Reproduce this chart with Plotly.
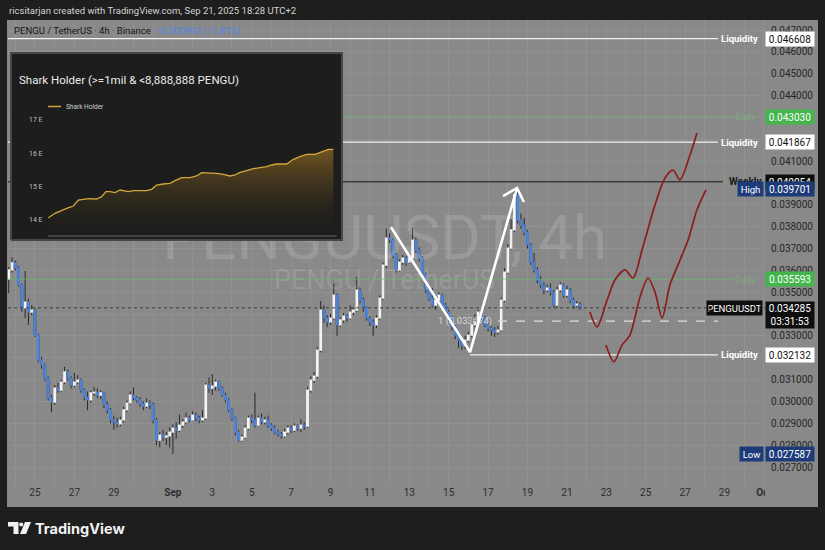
import plotly.graph_objects as go
import pandas as pd

# ---------------- data ----------------
candle_start = "2025-08-23 16:00"
first_open = 0.03560
close = [0.03602,0.03634,0.03611,0.03533,0.03428,0.03455,0.03409,0.03418,0.03304,0.03190,
         0.03167,0.03107,0.03016,0.02997,0.03061,0.03052,0.03089,0.03135,0.03107,0.03075,
         0.03089,0.03098,0.03052,0.03020,0.03007,0.03039,0.03043,0.03029,0.03039,0.02984,
         0.02961,0.02915,0.02906,0.02897,0.02915,0.02961,0.02993,0.03029,0.03016,0.03007,
         0.02988,0.02979,0.02993,0.02984,0.02915,0.02823,0.02846,0.02837,0.02842,0.02860,
         0.02878,0.02869,0.02892,0.02906,0.02924,0.02915,0.02938,0.02924,0.02915,0.02924,
         0.03075,0.03061,0.03070,0.03089,0.03061,0.03029,0.03007,0.02961,0.02924,0.02860,
         0.02823,0.02837,0.02878,0.02924,0.02915,0.02892,0.02924,0.02906,0.02915,0.02892,
         0.02878,0.02860,0.02851,0.02842,0.02860,0.02878,0.02869,0.02887,0.02878,0.02892,
         0.02887,0.03052,0.03098,0.03116,0.03235,0.03418,0.03382,0.03364,0.03382,0.03487,
         0.03350,0.03373,0.03391,0.03382,0.03409,0.03418,0.03510,0.03464,0.03428,0.03382,
         0.03364,0.03350,0.03382,0.03473,0.03624,0.03748,0.03739,0.03670,0.03602,0.03638,
         0.03656,0.03638,0.03656,0.03739,0.03693,0.03656,0.03579,0.03510,0.03473,0.03441,
         0.03464,0.03487,0.03441,0.03409,0.03382,0.03341,0.03304,0.03281,0.03258,0.03281,
         0.03304,0.03350,0.03364,0.03409,0.03382,0.03350,0.03336,0.03327,0.03318,0.03327,
         0.03464,0.03592,0.03702,0.03785,0.03945,0.03830,0.03807,0.03775,0.03716,0.03638,
         0.03602,0.03556,0.03533,0.03510,0.03519,0.03501,0.03441,0.03510,0.03533,0.03487,
         0.03510,0.03464,0.03441,0.03446,0.034285]
high = [0.03615,0.03660,0.03645,0.03620,0.03540,0.03597,0.03470,0.03440,0.03425,0.03310,
        0.03205,0.03175,0.03115,0.03030,0.03075,0.03085,0.03100,0.03158,0.03145,0.03115,
        0.03130,0.03120,0.03105,0.03060,0.03045,0.03050,0.03065,0.03060,0.03050,0.03045,
        0.03000,0.02970,0.02935,0.02925,0.02930,0.02975,0.03005,0.03045,0.03065,0.03025,
        0.03020,0.03000,0.03015,0.03005,0.02995,0.02925,0.02860,0.02870,0.02860,0.02880,
        0.02895,0.02905,0.02940,0.02920,0.02950,0.02935,0.02955,0.02950,0.02935,0.02960,
        0.03085,0.03110,0.03125,0.03100,0.03095,0.03070,0.03040,0.03015,0.02970,0.02930,
        0.02870,0.02850,0.02890,0.02935,0.02940,0.03040,0.02935,0.02945,0.02930,0.02935,
        0.02900,0.02890,0.02870,0.02860,0.02875,0.02890,0.02890,0.02900,0.02895,0.02920,
        0.02905,0.03065,0.03115,0.03135,0.03250,0.03460,0.03440,0.03395,0.03400,0.03540,
        0.03495,0.03385,0.03405,0.03400,0.03440,0.03430,0.03570,0.03520,0.03475,0.03435,
        0.03390,0.03375,0.03395,0.03485,0.03635,0.03790,0.03770,0.03745,0.03680,0.03650,
        0.03670,0.03665,0.03675,0.03795,0.03750,0.03705,0.03665,0.03590,0.03525,0.03520,
        0.03480,0.03500,0.03495,0.03450,0.03420,0.03390,0.03350,0.03315,0.03290,0.03300,
        0.03320,0.03380,0.03400,0.03420,0.03415,0.03390,0.03360,0.03345,0.03340,0.03345,
        0.03475,0.03610,0.03720,0.03835,0.039701,0.03955,0.03860,0.03840,0.03785,0.03725,
        0.03680,0.03615,0.03575,0.03545,0.03535,0.03540,0.03510,0.03525,0.03545,0.03540,
        0.03530,0.03520,0.03475,0.03460,0.03455]
low = [0.03496,0.03590,0.03600,0.03525,0.03410,0.03382,0.03350,0.03395,0.03295,0.03180,
       0.03150,0.03095,0.03005,0.02950,0.02985,0.03040,0.03045,0.03080,0.03095,0.03060,
       0.03065,0.03080,0.03040,0.03005,0.02960,0.02995,0.03025,0.03015,0.03010,0.02970,
       0.02945,0.02900,0.02870,0.02880,0.02885,0.02905,0.02950,0.02985,0.03005,0.02995,
       0.02975,0.02960,0.02970,0.02965,0.02900,0.02800,0.02790,0.02820,0.02800,0.02790,
       0.027587,0.02830,0.02860,0.02880,0.02895,0.02905,0.02910,0.02910,0.02900,0.02905,
       0.02915,0.03040,0.03030,0.03050,0.03050,0.03020,0.02995,0.02950,0.02910,0.02845,
       0.02815,0.02815,0.02830,0.02870,0.02900,0.02880,0.02885,0.02895,0.02895,0.02880,
       0.02865,0.02850,0.02840,0.02830,0.02835,0.02850,0.02855,0.02860,0.02865,0.02860,
       0.02870,0.02880,0.03040,0.03085,0.03105,0.03225,0.03360,0.03340,0.03350,0.03375,
       0.03300,0.03340,0.03360,0.03365,0.03375,0.03395,0.03410,0.03450,0.03410,0.03370,
       0.03345,0.03300,0.03335,0.03375,0.03465,0.03610,0.03725,0.03655,0.03590,0.03595,
       0.03625,0.03620,0.03630,0.03650,0.03680,0.03640,0.03565,0.03495,0.03460,0.03430,
       0.03420,0.03455,0.03430,0.03395,0.03365,0.03325,0.03285,0.03245,0.03235,0.03240,
       0.03270,0.03295,0.03340,0.03355,0.03370,0.03340,0.03320,0.03300,0.03295,0.03305,
       0.03320,0.03455,0.03585,0.03695,0.03775,0.03815,0.03790,0.03760,0.03700,0.03625,
       0.03590,0.03540,0.03520,0.03490,0.03500,0.03485,0.03430,0.03430,0.03500,0.03475,
       0.03475,0.03450,0.03425,0.03430,0.03420]

# horizontal levels
liquidity_prices = [0.046608, 0.041867, 0.032132]
daily_prices = [0.043030, 0.035593]
weekly_price = 0.040054
high_price = 0.039701
low_price = 0.027587
last_price = 0.034285
countdown = "03:31:53"
fib_price = 0.033674
fib_label = "1 (0.033674)"

# price-scale labels that stay visible (others sit under the price boxes)
price_ticks = [0.027, 0.028, 0.029, 0.030, 0.031, 0.033, 0.035, 0.036, 0.037, 0.038, 0.039,
               0.041, 0.044, 0.045, 0.046, 0.047]

# drawings
zig_x = ["2025-09-12 01:40", "2025-09-16 02:00", "2025-09-18 11:15"]
zig_y = [0.03798, 0.03226, 0.03977]
head_x = ["2025-09-17 18:15", "2025-09-18 11:15", "2025-09-18 19:40"]
head_y = [0.03940, 0.03977, 0.03913]
proj1_x = ["2025-09-22 04:00", "2025-09-22 12:45", "2025-09-23 01:00", "2025-09-23 10:30",
           "2025-09-23 22:50", "2025-09-24 08:40", "2025-09-24 19:30", "2025-09-25 11:20",
           "2025-09-25 23:30", "2025-09-26 09:20", "2025-09-26 17:50", "2025-09-27 06:00",
           "2025-09-27 14:25"]
proj1_y = [0.03409, 0.03341, 0.03464, 0.03556, 0.03602, 0.03565, 0.03693, 0.03899,
           0.04023, 0.04059, 0.04014, 0.04128, 0.04229]
proj2_x = ["2025-09-22 23:30", "2025-09-23 09:20", "2025-09-23 19:10", "2025-09-24 04:50",
           "2025-09-24 17:00", "2025-09-25 02:50", "2025-09-25 11:20", "2025-09-25 20:00",
           "2025-09-26 05:30", "2025-09-26 15:20", "2025-09-27 03:40", "2025-09-27 14:25",
           "2025-09-28 01:25"]
proj2_y = [0.03258, 0.03181, 0.03258, 0.03304, 0.03477, 0.03565, 0.03501, 0.03382,
           0.03533, 0.03625, 0.03739, 0.03876, 0.03968]

# x axis ticks
tick_dates = ["2025-08-25", "2025-08-27", "2025-08-29", "2025-09-01", "2025-09-03", "2025-09-05",
              "2025-09-07", "2025-09-09", "2025-09-11", "2025-09-13", "2025-09-15", "2025-09-17",
              "2025-09-19", "2025-09-21", "2025-09-23", "2025-09-25", "2025-09-27", "2025-09-29",
              "2025-10-01"]
tick_text = ["25", "27", "29", "<b>Sep</b>", "3", "5", "7", "9", "11", "13", "15", "17", "19",
             "21", "23", "25", "27", "29", "<b>Oct</b>"]

# inset: Shark Holder
shark_x = [14.5, 16.5, 20.0, 22.0, 23.5, 25.0, 26.5, 29.0, 30.5, 31.8, 33.0, 34.5, 36.0, 38.5,
           40.0, 42.0, 44.0, 45.5, 47.0, 49.0, 51.0, 52.5, 54.5, 57.0, 59.0, 60.5, 62.5, 65.0,
           67.0, 69.0, 70.5, 72.0, 74.0, 76.0, 78.0, 80.0, 81.5, 83.0, 86.0, 88.0, 90.0, 92.0,
           94.5, 96.5, 98.5, 100.0]
shark_y = [14.07, 14.20, 14.35, 14.42, 14.60, 14.62, 14.64, 14.63, 14.70, 14.85, 14.85, 14.82,
           14.90, 14.85, 14.88, 14.88, 14.88, 14.92, 15.05, 15.08, 15.10, 15.18, 15.27, 15.27,
           15.32, 15.42, 15.42, 15.40, 15.37, 15.32, 15.35, 15.43, 15.48, 15.54, 15.57, 15.60,
           15.65, 15.68, 15.68, 15.82, 15.90, 15.97, 15.97, 16.05, 16.12, 16.12]
shark_ticks = [14, 15, 16, 17]
shark_ticktext = ["14 E", "15 E", "16 E", "17 E"]

# ---------------- layout geometry ----------------
W, H = 825, 550
ML, MR, MT, MB = 8, 60, 20, 65
PW, PH = W - ML - MR, H - MT - MB
X0, X1 = "2025-08-23 15:07", "2025-10-01 01:21"
Y0, Y1 = 0.026176, 0.047458
LINE_END = "2025-09-28 16:00"
DAILY_END = "2025-09-29 12:45"
WEEKLY_END = "2025-09-28 22:00"

def px(x):
    return (x - ML) / PW

def py(y):
    return (H - MB - y) / PH

BG = "#898989"
DARK = "#1e1e1e"
BLUE = "#4f84dc"
FONT = "Roboto"

times = pd.date_range(candle_start, periods=len(close), freq="4h")
opens = [first_open] + close[:-1]
body_hi = [max(o, c) for o, c in zip(opens, close)]
body_lo = [min(o, c) for o, c in zip(opens, close)]

fig = go.Figure()

# watermark
fig.add_trace(go.Scatter(x=["2025-09-11 18:00"], y=[0.03725], mode="text", text=["PENGUUSDT, 4h"],
                         textfont=dict(size=62, color="rgba(255,255,255,0.14)", family=FONT),
                         hoverinfo="skip", showlegend=False))
fig.add_trace(go.Scatter(x=["2025-09-11 18:00"], y=[0.03545], mode="text", text=["PENGU / TetherUS"],
                         textfont=dict(size=27, color="rgba(255,255,255,0.14)", family=FONT),
                         hoverinfo="skip", showlegend=False))

# horizontal levels (as traces so the inset hides them)
for i, p in enumerate(liquidity_prices):
    xs = X0 if i < 2 else zig_x[1]
    fig.add_trace(go.Scatter(x=[xs, LINE_END], y=[p, p], mode="lines",
                             line=dict(color="#f2f2f2", width=1.2), hoverinfo="skip", showlegend=False))
for p in daily_prices:
    fig.add_trace(go.Scatter(x=[X0, DAILY_END], y=[p, p], mode="lines",
                             line=dict(color="rgba(95,195,95,0.6)", width=1), hoverinfo="skip", showlegend=False))
fig.add_trace(go.Scatter(x=[X0, WEEKLY_END], y=[weekly_price, weekly_price], mode="lines",
                         line=dict(color="#3a3a3a", width=1.6), hoverinfo="skip", showlegend=False))
fig.add_trace(go.Scatter(x=[X0, X1], y=[last_price, last_price], mode="lines",
                         line=dict(color="#3c3c3c", width=1, dash="dot"), hoverinfo="skip", showlegend=False))
fig.add_trace(go.Scatter(x=["2025-09-17 12:00", LINE_END], y=[fib_price, fib_price], mode="lines",
                         line=dict(color="#dedede", width=1.2, dash="dash"), hoverinfo="skip", showlegend=False))
fig.add_trace(go.Scatter(x=["2025-09-17 05:00"], y=[fib_price], mode="text", text=[fib_label],
                         textposition="middle left",
                         textfont=dict(size=9.5, color="#d6d6d6", family=FONT),
                         hoverinfo="skip", showlegend=False))

# candles: wicks then bodies
fig.add_trace(go.Candlestick(x=times, open=opens, high=high, low=low, close=close,
                             increasing=dict(line=dict(color="#2a2a2a", width=1), fillcolor="#2a2a2a"),
                             decreasing=dict(line=dict(color="#2a2a2a", width=1), fillcolor="#2a2a2a"),
                             whiskerwidth=0, hoverinfo="skip", showlegend=False))
fig.add_trace(go.Candlestick(x=times, open=opens, high=body_hi, low=body_lo, close=close,
                             increasing=dict(line=dict(color="#f4f4f4", width=1.2), fillcolor="#f4f4f4"),
                             decreasing=dict(line=dict(color=BLUE, width=1.2), fillcolor=BLUE),
                             whiskerwidth=0, hoverinfo="skip", showlegend=False))

# drawings
fig.add_trace(go.Scatter(x=proj1_x, y=proj1_y, mode="lines", line=dict(color="#8c1d1d", width=1.7, shape="spline", smoothing=0.8),
                         hoverinfo="skip", showlegend=False))
fig.add_trace(go.Scatter(x=proj2_x, y=proj2_y, mode="lines", line=dict(color="#8c1d1d", width=1.7, shape="spline", smoothing=0.8),
                         hoverinfo="skip", showlegend=False))
fig.add_trace(go.Scatter(x=zig_x, y=zig_y, mode="lines", line=dict(color="#ffffff", width=2.6),
                         hoverinfo="skip", showlegend=False))
fig.add_trace(go.Scatter(x=head_x, y=head_y, mode="lines", line=dict(color="#ffffff", width=2.6),
                         hoverinfo="skip", showlegend=False))

# inset (second subplot drawn on top)
IX0, IX1 = 3.0, 102.9
IY0, IY1 = 13.37, 19.04
fig.add_trace(go.Scatter(x=[IX0 + 0.3, IX1 - 0.3, IX1 - 0.3, IX0 + 0.3, IX0 + 0.3],
                         y=[IY0 + 0.03, IY0 + 0.03, IY1 - 0.03, IY1 - 0.03, IY0 + 0.03],
                         mode="lines", fill="toself", fillcolor="#1d1d1d",
                         line=dict(color="#474747", width=2), xaxis="x2", yaxis="y2",
                         hoverinfo="skip", showlegend=False))
fig.add_trace(go.Scatter(x=[shark_x[0], 101.0], y=[13.52, 13.52], mode="lines",
                         line=dict(color="#6a6a6a", width=1), xaxis="x2", yaxis="y2",
                         hoverinfo="skip", showlegend=False))
fig.add_trace(go.Scatter(x=shark_x, y=[13.52] * len(shark_x), mode="lines", line=dict(width=0),
                         xaxis="x2", yaxis="y2", hoverinfo="skip", showlegend=False))
fig.add_trace(go.Scatter(x=shark_x, y=shark_y, mode="lines", name="Shark Holder",
                         line=dict(color="#d2a73c", width=1.3), fill="tonexty",
                         fillgradient=dict(type="vertical", start=13.52, stop=16.1,
                                           colorscale=[[0, "rgba(40,34,20,0)"], [1, "rgba(140,105,35,0.75)"]]),
                         xaxis="x2", yaxis="y2", hoverinfo="skip", showlegend=False))

# ---------------- annotations ----------------
ann = []
def add_ann(**kw):
    base = dict(showarrow=False, font=dict(family=FONT, size=10, color="#111"))
    f = kw.pop("font", {})
    base["font"].update(f)
    base.update(kw)
    ann.append(base)

add_ann(text="ricsitarjan created with TradingView.com, Sep 21, 2025 18:28 UTC+2",
        xref="paper", yref="paper", x=px(7), y=py(10), xanchor="left", yanchor="middle",
        font=dict(size=9.5, color="#d4d4d4"))
add_ann(text="PENGU / TetherUS · 4h · Binance  <span style='color:#4f86e8'>−0.000993 (−2.81%)</span>",
        xref="paper", yref="paper", x=px(12), y=py(31), xanchor="left", yanchor="middle",
        font=dict(size=9.5, color="#141414"))

# inset text
add_ann(text="Shark Holder (>=1mil & <8,888,888 PENGU)", xref="paper", yref="paper",
        x=px(17), y=py(80), xanchor="left", yanchor="middle", font=dict(size=11.5, color="#ececec"))
add_ann(text="Shark Holder", xref="paper", yref="paper", x=px(64), y=py(106.5),
        xanchor="left", yanchor="middle", font=dict(size=6.5, color="#cfcfcf"))

# level labels
for p in liquidity_prices:
    add_ann(text="<b>Liquidity</b>", xref="paper", yref="y", x=1, y=p, xanchor="right", yanchor="middle",
            xshift=-5, font=dict(size=9.5, color="#ffffff"))
for p in daily_prices:
    add_ann(text="Daily", xref="paper", yref="y", x=1, y=p, xanchor="right", yanchor="middle",
            xshift=-7, font=dict(size=9.5, color="rgba(110,205,110,0.55)"))
add_ann(text="<b>Weekly</b>", xref="paper", yref="y", x=1, y=weekly_price, xanchor="right", yanchor="middle",
        xshift=-1, font=dict(size=10, color="#1a1a1a"))

# price boxes
def price_box(p, bg, fg, text=None, yshift=0, height=11):
    add_ann(text=text or f"{p:.6f}", xref="paper", yref="y", x=1, y=p, xanchor="left", yanchor="middle",
            xshift=0, yshift=yshift, bgcolor=bg, width=45, height=height, borderpad=1.5,
            font=dict(size=10, color=fg))

for p in liquidity_prices:
    price_box(p, "#ffffff", "#111111")
for p in daily_prices:
    price_box(p, "#43b54c", "#ffffff")
price_box(weekly_price, "#0e0e0e", "#ffffff")
price_box(high_price, "#1d3b79", "#ffffff")
price_box(low_price, "#1d3b79", "#ffffff")
add_ann(text="High", xref="paper", yref="y", x=1, y=high_price, xanchor="right", yanchor="middle",
        xshift=-1, bgcolor="#1d3b79", width=22, height=11, borderpad=1.5, font=dict(size=9.5, color="#ffffff"))
add_ann(text="Low", xref="paper", yref="y", x=1, y=low_price, xanchor="right", yanchor="middle",
        xshift=-1, bgcolor="#1d3b79", width=20, height=11, borderpad=1.5, font=dict(size=9.5, color="#ffffff"))
add_ann(text="PENGUUSDT", xref="paper", yref="y", x=1, y=last_price, xanchor="right", yanchor="middle",
        xshift=-2, bgcolor="#0e0e0e", width=52, height=11, borderpad=1.5, font=dict(size=9.5, color="#ffffff"))
add_ann(text=f"{last_price:.6f}<br>{countdown}", xref="paper", yref="y", x=1, y=last_price,
        xanchor="left", yanchor="top", yshift=7, bgcolor="#0e0e0e", width=45, height=23, borderpad=1.5,
        font=dict(size=10, color="#ffffff"))

# TradingView logo text
add_ann(text="<b>TradingView</b>", xref="paper", yref="paper", x=px(33), y=py(528),
        xanchor="left", yanchor="middle", font=dict(family="Inter", size=14.5, color="#f2f2f2"))

# ---------------- shapes ----------------
shapes = []
shapes.append(dict(type="rect", xref="paper", yref="paper", x0=px(7), x1=px(818), y0=py(507), y1=py(20),
                   fillcolor=BG, line=dict(width=0), layer="below"))
shapes.append(dict(type="rect", xref="paper", yref="paper", x0=px(765), x1=px(818), y0=py(506), y1=py(486),
                   fillcolor=BG, line=dict(width=0), layer="above"))
shapes.append(dict(type="line", xref="paper", yref="paper", x0=px(48), x1=px(61), y0=py(106.5), y1=py(106.5),
                   line=dict(color="#d2a73c", width=1.5), layer="above"))

def path(points):
    s = "M " + " L ".join(f"{px(a):.5f},{py(b):.5f}" for a, b in points) + " Z"
    return s

shapes.append(dict(type="path", xref="paper", yref="paper",
                   path=path([(8, 522), (18.5, 522), (18.5, 534), (13.5, 534), (13.5, 526.5), (8, 526.5)]),
                   fillcolor="#f2f2f2", line=dict(width=0), layer="above"))
shapes.append(dict(type="circle", xref="paper", yref="paper", x0=px(19.2), x1=px(23.2), y0=py(526.5), y1=py(522.5),
                   fillcolor="#f2f2f2", line=dict(width=0), layer="above"))
shapes.append(dict(type="path", xref="paper", yref="paper",
                   path=path([(25, 522), (31, 522), (26, 534), (20, 534)]),
                   fillcolor="#f2f2f2", line=dict(width=0), layer="above"))

fig.update_layout(
    width=W, height=H, autosize=False,
    margin=dict(l=ML, r=MR, t=MT, b=MB, pad=0),
    paper_bgcolor=DARK, plot_bgcolor=BG,
    showlegend=False, hovermode=False,
    font=dict(family=FONT),
    annotations=ann, shapes=shapes,
    xaxis=dict(type="date", range=[X0, X1], domain=[0, 1], anchor="y",
               tickvals=tick_dates, ticktext=tick_text, ticks="",
               tickfont=dict(size=10, color="#2e2e2e", family=FONT),
               showgrid=True, gridcolor="#919191", gridwidth=1,
               minor=dict(dtick=86400000, tick0="2025-08-25", showgrid=True, gridcolor="#919191", gridwidth=1),
               zeroline=False, showline=False, rangeslider=dict(visible=False), fixedrange=True),
    yaxis=dict(range=[Y0, Y1], side="right", anchor="x", tickvals=price_ticks, tickformat=".6f",
               tickfont=dict(size=10, color="#262626", family=FONT), ticks="",
               ticklabelstandoff=5,
               minor=dict(dtick=0.001, tick0=0, showgrid=True, gridcolor="#919191", gridwidth=1),
               showgrid=True, gridcolor="#919191", gridwidth=1, zeroline=False, showline=False, fixedrange=True),
    xaxis2=dict(domain=[px(10), px(343)], anchor="y2", range=[IX0, IX1], visible=False, fixedrange=True),
    yaxis2=dict(domain=[py(241), py(52)], anchor="x2", range=[IY0, IY1],
                tickvals=shark_ticks, ticktext=shark_ticktext, ticklabelposition="inside",
                ticklabelstandoff=16, ticks="",
                tickfont=dict(size=7, color="#bdbdbd", family=FONT),
                showgrid=False, zeroline=False, showline=False, fixedrange=True),
)

fig.write_html("out.html", config={"displayModeBar": False, "staticPlot": True},
               post_script="document.body.style.margin='0';document.body.style.padding='0';"
                           "document.body.style.background='#1e1e1e';document.body.style.overflow='hidden';")
